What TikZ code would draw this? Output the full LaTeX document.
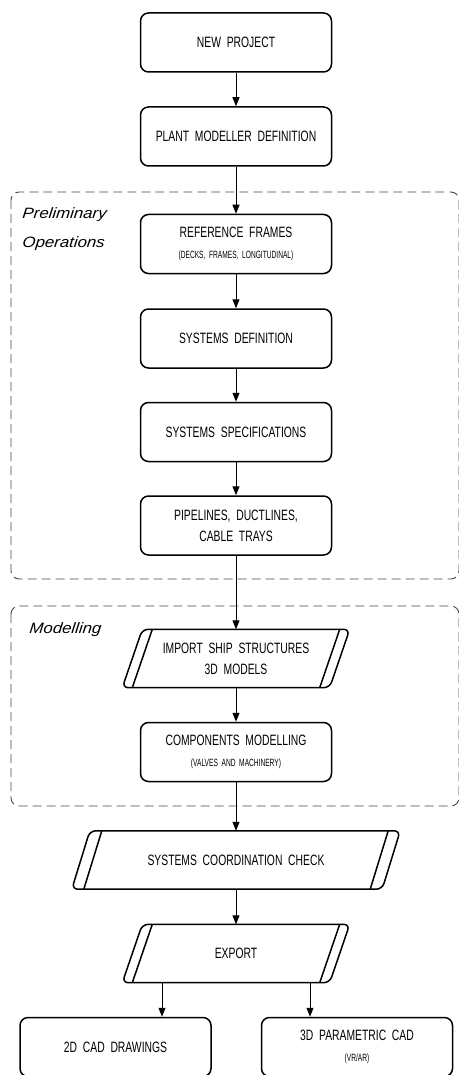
\documentclass[tikz,border=0pt]{standalone}
\usepackage{fontspec}
\setmainfont{Liberation Sans}
\newfontfamily\cadfont[FakeStretch=0.69,WordSpace=2]{Liberation Sans}
\newfontfamily\notefont[FakeStretch=0.63,WordSpace=2]{Liberation Sans}
\newfontfamily\caditfont[FakeStretch=1.12,FakeSlant=0.1]{Liberation Sans}
\usetikzlibrary{arrows.meta}

\begin{document}
\begin{tikzpicture}[x=1pt,y=1pt,node distance=93.5pt]

% Definitions
\tikzstyle{Step} = [rectangle, rounded corners=8pt, minimum width=191pt, minimum height=59pt, text centered, align=center, draw=black, line width=1.5pt, font=\cadfont\fontsize{15}{21}\selectfont]
\tikzstyle{Store} = [rectangle, minimum width=227pt, minimum height=58pt, align=center, font=\cadfont\fontsize{15}{21}\selectfont]
\tikzstyle{Outline} = [draw=black, line width=1.5pt, rounded corners=6pt]
\tikzstyle{Inner} = [line width=1.5pt]
\tikzstyle{arrow} = [line width=1pt, -{Triangle[length=9pt,width=7pt]}]
\tikzstyle{Group} = [draw=black!72, line width=0.9pt, dash pattern=on 9pt off 5pt, rounded corners=8pt]
\tikzstyle{Label} = [anchor=north west, inner sep=0pt, align=left, font=\caditfont\itshape\fontsize{15}{29}\selectfont]

\useasboundingbox (0,0) rectangle (458,-1075);

% groups
\draw [Group] (11,-192) rectangle (459,-579);
\draw [Group] (11,-606) rectangle (459,-806);
\node (prelim) [Label] at (22,-207.5) {Preliminary\\Operations};
\node (model) [Label] at (29,-622.5) {Modelling};

\node (new) [Step] at (236,-42.5) {NEW PROJECT};
\node (plant) [Step, below of=new, yshift=-0.5pt] {PLANT MODELLER DEFINITION};
\node (frames) [Step, below of=plant, yshift=-14pt] {REFERENCE FRAMES\\{\notefont\fontsize{10.5}{11}\selectfont (DECKS, FRAMES, LONGITUDINAL)}};
\node (sysdef) [Step, below of=frames, yshift=-1pt] {SYSTEMS DEFINITION};
\node (sysspec) [Step, below of=sysdef] {SYSTEMS SPECIFICATIONS};
\node (pipes) [Step, below of=sysspec] {PIPELINES, DUCTLINES,\\CABLE TRAYS};

\node (import) [Store, below of=pipes, yshift=-39.5pt] {IMPORT SHIP STRUCTURES\\3D MODELS};
\node (comp) [Step, below of=import] {COMPONENTS MODELLING\\{\notefont\fontsize{10.5}{11}\selectfont (VALVES AND MACHINERY)}};

\node (check) [Store, minimum width=328pt, below of=comp, yshift=-14.5pt] {SYSTEMS COORDINATION CHECK};
\node (export) [Store, below of=check] {EXPORT};
\node (cad2) [Step, below of=export, xshift=-120.5pt] {2D CAD DRAWINGS};
\node (cad3) [Step, below of=export, xshift=121pt] {3D PARAMETRIC CAD\\{\notefont\fontsize{10.5}{11}\selectfont (VR/AR)}};

% slanted outlines
\draw [Outline] ([xshift=20pt]import.north west) -- (import.north east) -- ([xshift=-20pt]import.south east) -- (import.south west) -- cycle;
\draw [Inner] ([xshift=30pt]import.north west) -- ([xshift=10pt]import.south west);
\draw [Inner] ([xshift=-10pt]import.north east) -- ([xshift=-30pt]import.south east);
\draw [Outline] ([xshift=18pt]check.north west) -- (check.north east) -- ([xshift=-18pt]check.south east) -- (check.south west) -- cycle;
\draw [Inner] ([xshift=30pt]check.north west) -- ([xshift=12pt]check.south west);
\draw [Inner] ([xshift=-12pt]check.north east) -- ([xshift=-30pt]check.south east);
\draw [Outline] ([xshift=20pt]export.north west) -- (export.north east) -- ([xshift=-20pt]export.south east) -- (export.south west) -- cycle;
\draw [Inner] ([xshift=30pt]export.north west) -- ([xshift=10pt]export.south west);
\draw [Inner] ([xshift=-10pt]export.north east) -- ([xshift=-30pt]export.south east);

\draw [arrow] (new) -- (plant);
\draw [arrow] (plant) -- (frames);
\draw [arrow] (frames) -- (sysdef);
\draw [arrow] (sysdef) -- (sysspec);
\draw [arrow] (sysspec) -- (pipes);
\draw [arrow] (pipes) -- (import);
\draw [arrow] (import) -- (comp);
\draw [arrow] (comp) -- (check);
\draw [arrow] (check) -- (export);
\draw [arrow] ([xshift=-74pt]export.south) -- ([xshift=-74pt]export.south |- cad2.north);
\draw [arrow] ([xshift=74pt]export.south) -- ([xshift=74pt]export.south |- cad3.north);

\end{tikzpicture}
\end{document}
